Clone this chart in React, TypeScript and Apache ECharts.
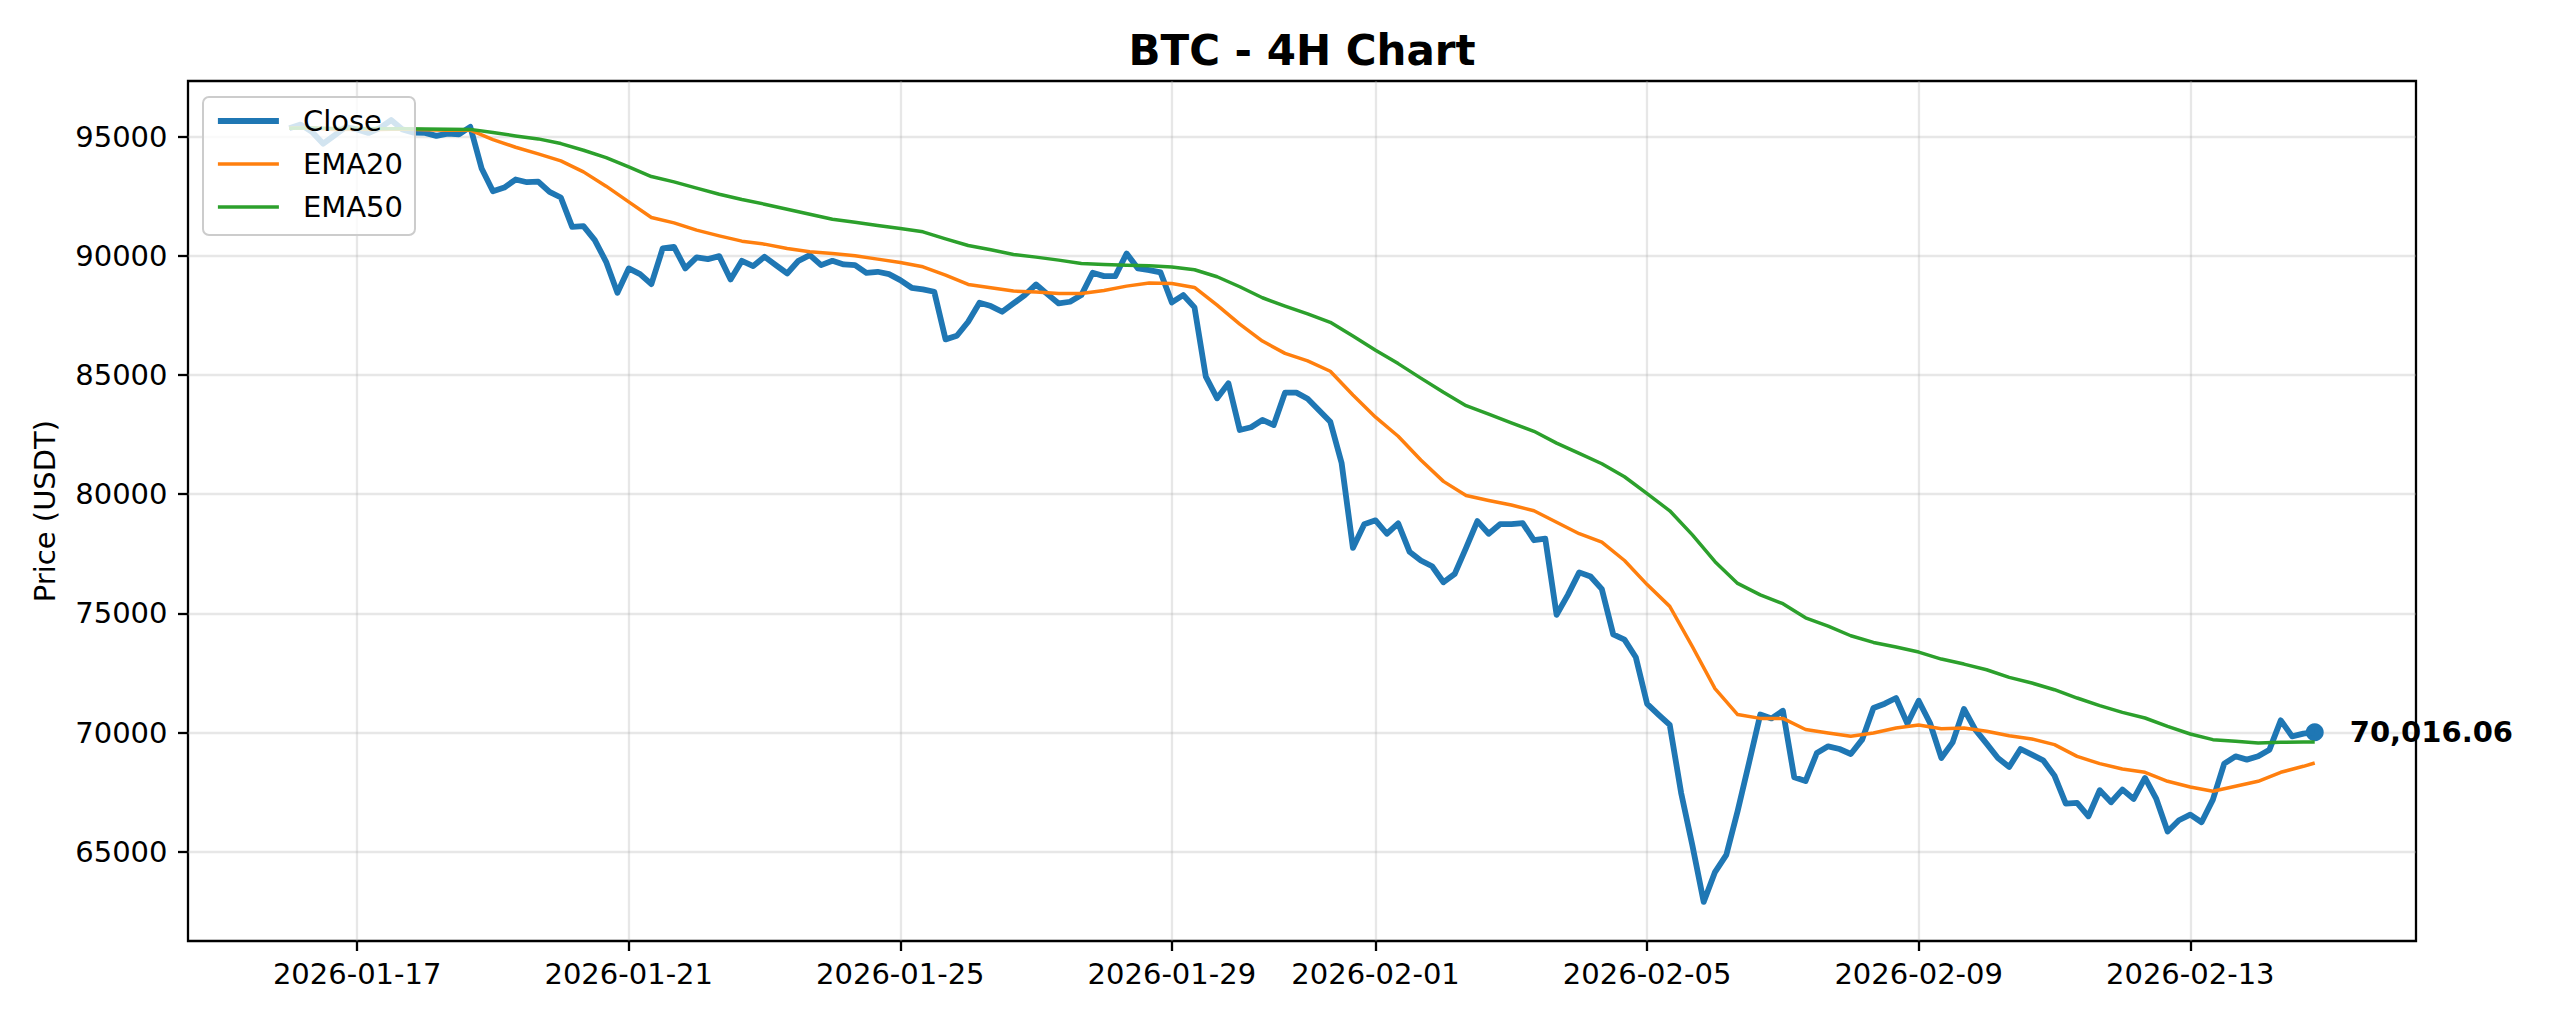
import { useEffect, useRef } from "react";
import * as echarts from "echarts";

// 4H candles, first one at 2026-01-16 00:00 UTC
const startUtc = Date.UTC(2026, 0, 16, 0, 0);
const stepMs = 4 * 3600 * 1000;

const close = [
  95350, 95500, 95200, 94700, 95050, 95400, 95300, 95150, 95350, 95690,
  95300, 95166, 95152, 95027, 95124, 95096, 95404, 93658, 92708, 92862,
  93197, 93085, 93113, 92680, 92443, 91213, 91241, 90655, 89747, 88448,
  89468, 89230, 88811, 90306, 90376, 89468, 89929, 89859, 89985, 89007,
  89789, 89566, 89957, 89607, 89258, 89789, 90026, 89607, 89789, 89635,
  89607, 89286, 89328, 89230, 88979, 88658, 88588, 88490, 86493, 86646,
  87233, 88029, 87889, 87652, 88001, 88351, 88797, 88392, 88001, 88071,
  88351, 89286, 89147, 89147, 90096, 89468, 89398, 89300, 88043, 88351,
  87834, 84928, 84021, 84649, 82694, 82806, 83113, 82903, 84258, 84258,
  84002, 83521, 83040, 81308, 77748, 78742, 78903, 78341, 78774, 77588,
  77219, 76979, 76305, 76658, 77748, 78871, 78341, 78742, 78742, 78790,
  78069, 78133, 74942, 75776, 76722, 76546, 76016, 74124, 73900, 73162,
  71206, 70757, 70324, 67486, 65273, 62900, 64151, 64872, 66716, 68720,
  70757, 70597, 70917, 68127, 67967, 69146, 69426, 69314, 69104, 69705,
  71032, 71213, 71451, 70375, 71339, 70403, 68937, 69593, 70990, 70124,
  69537, 68937, 68560, 69314, 69076, 68839, 68196, 67023, 67051, 66492,
  67582, 67079, 67610, 67219, 68099, 67219, 65850, 66325, 66562, 66241,
  67191, 68699, 69006, 68867, 69006, 69286, 70515, 69845, 69956, 70016.06,
];

// EMA curves read every second candle, plus the last candle
const ema20 = [
  95350, 95360, 95300, 95310, 95300, 95320, 95290, 95260, 95270, 94873,
  94552, 94272, 93979, 93518, 92918, 92261, 91605, 91381, 91074, 90836,
  90613, 90487, 90306, 90166, 90096, 89999, 89859, 89719, 89538, 89189,
  88797, 88658, 88518, 88476, 88420, 88420, 88546, 88727, 88853, 88839,
  88672, 87931, 87135, 86423, 85906, 85589, 85156, 84162, 83232, 82430,
  81436, 80538, 79945, 79737, 79544, 79304, 78823, 78342, 77989, 77219,
  76209, 75295, 73611, 71847, 70757, 70597, 70597, 70132, 69984, 69845,
  69984, 70194, 70319, 70166, 70194, 70054, 69872, 69733, 69496, 69006,
  68699, 68476, 68336, 67959, 67722, 67540, 67750, 67959, 68336, 68587,
  68727,
];
const ema50 = [
  95350, 95355, 95340, 95335, 95330, 95330, 95320, 95310, 95300, 95166,
  95027, 94901, 94705, 94426, 94119, 93728, 93323, 93099, 92834, 92582,
  92359, 92163, 91954, 91740, 91530, 91409, 91270, 91144, 91004, 90711,
  90432, 90250, 90054, 89943, 89817, 89677, 89635, 89607, 89580, 89524,
  89412, 89119, 88700, 88239, 87889, 87562, 87209, 86632, 86038, 85477,
  84868, 84275, 83713, 83360, 82992, 82639, 82142, 81709, 81276, 80731,
  80025, 79304, 78293, 77171, 76257, 75776, 75407, 74814, 74468, 74063,
  73783, 73588, 73378, 73085, 72875, 72638, 72317, 72079, 71800, 71451,
  71130, 70850, 70613, 70264, 69942, 69705, 69635, 69565, 69593, 69607,
  69607,
];
const emaCandles = Array.from({ length: 90 }, (_, k) => k * 2).concat(close.length - 1);

const dateTicks = [
  "2026-01-17", "2026-01-21", "2026-01-25", "2026-01-29",
  "2026-02-01", "2026-02-05", "2026-02-09", "2026-02-13",
];
const priceTicks = [65000, 70000, 75000, 80000, 85000, 90000, 95000];

const FONT = '"DejaVu Sans", "Liberation Sans", sans-serif';
const BLUE = "#1f77b4";
const ORANGE = "#ff7f0e";
const GREEN = "#2ca02c";

const t = (i: number) => startUtc + i * stepMs;

function buildOption(): echarts.EChartsOption {
  const endUtc = t(close.length - 1);
  const span = endUtc - startUtc;
  const all = [...close, ...ema20, ...ema50];
  const lo = Math.min(...all);
  const hi = Math.max(...all);
  const pad = (hi - lo) * 0.05;
  const last = close[close.length - 1];
  const tickDates = dateTicks.map((d) => Date.parse(d + "T00:00:00Z"));

  const gridLine = { show: true, lineStyle: { color: "rgba(176,176,176,0.3)", width: 2.3 } };
  const tick = { show: true, inside: false, length: 10, lineStyle: { color: "#000", width: 2.3 } };

  return {
    animation: false,
    backgroundColor: "#fff",
    textStyle: { fontFamily: FONT },
    grid: {
      left: 188,
      right: 144,
      top: 81,
      bottom: 83,
      show: true,
      borderColor: "#000",
      borderWidth: 2.3,
      backgroundColor: "transparent",
      containLabel: false,
    },
    graphic: [
      {
        type: "text",
        x: 1302,
        y: 50,
        style: {
          text: "BTC - 4H Chart",
          fill: "#000",
          font: `bold 42px ${FONT}`,
          textAlign: "center",
          textVerticalAlign: "middle",
        },
      },
      {
        type: "text",
        x: 45,
        y: 511,
        rotation: Math.PI / 2,
        style: {
          text: "Price (USDT)",
          fill: "#000",
          font: `29px ${FONT}`,
          textAlign: "center",
          textVerticalAlign: "middle",
        },
      },
    ],
    legend: {
      data: ["Close", "EMA20", "EMA50"],
      orient: "vertical",
      left: 203,
      top: 97,
      z: 10,
      padding: [9, 12, 13, 12],
      itemWidth: 61,
      itemHeight: 14,
      itemGap: 13,
      backgroundColor: "rgba(255,255,255,0.8)",
      borderColor: "#cccccc",
      borderWidth: 2,
      borderRadius: 6,
      selectedMode: false,
      itemStyle: { opacity: 0 },
      lineStyle: { width: "inherit" as any },
      textStyle: { fontSize: 29, fontFamily: FONT, color: "#000", lineHeight: 30, padding: [0, 0, 0, 19] },
    },
    xAxis: {
      type: "value",
      min: startUtc - span * 0.05,
      max: endUtc + span * 0.05,
      axisLine: { show: false },
      axisTick: { ...tick, customValues: tickDates } as any,
      axisLabel: {
        customValues: tickDates,
        formatter: (v: number) => new Date(v).toISOString().slice(0, 10),
        color: "#000",
        fontSize: 29,
        fontFamily: FONT,
        margin: 18,
      } as any,
      splitLine: gridLine,
    },
    yAxis: {
      type: "value",
      min: lo - pad,
      max: hi + pad,
      axisLine: { show: false },
      axisTick: { ...tick, customValues: priceTicks } as any,
      axisLabel: {
        customValues: priceTicks,
        formatter: (v: number) => String(v),
        color: "#000",
        fontSize: 29,
        fontFamily: FONT,
        margin: 20.5,
      } as any,
      splitLine: gridLine,
    },
    series: [
      {
        type: "scatter",
        name: "last",
        z: 1,
        silent: true,
        symbol: "circle",
        symbolSize: 18,
        itemStyle: { color: BLUE, opacity: 1 },
        data: [[endUtc, last]],
        label: {
          show: true,
          position: "right",
          distance: 26,
          opacity: 1,
          formatter: () =>
            last.toLocaleString("en-US", { minimumFractionDigits: 2, maximumFractionDigits: 2 }),
          color: "#000",
          fontSize: 29,
          fontWeight: "bold",
          fontFamily: FONT,
        },
      },
      {
        type: "line",
        name: "Close",
        z: 2,
        symbol: "none",
        data: close.map((v, i) => [t(i), v]),
        lineStyle: { color: BLUE, width: 5.8, join: "round" },
        itemStyle: { color: BLUE },
      },
      {
        type: "line",
        name: "EMA20",
        z: 2,
        symbol: "none",
        data: ema20.map((v, k) => [t(emaCandles[k]), v]),
        lineStyle: { color: ORANGE, width: 3.5, join: "round" },
        itemStyle: { color: ORANGE },
      },
      {
        type: "line",
        name: "EMA50",
        z: 2,
        symbol: "none",
        data: ema50.map((v, k) => [t(emaCandles[k]), v]),
        lineStyle: { color: GREEN, width: 3.5, join: "round" },
        itemStyle: { color: GREEN },
      },
    ],
  };
}

export default function App() {
  const ref = useRef<HTMLDivElement | null>(null);

  useEffect(() => {
    document.body.style.margin = "0";
    if (!ref.current) return;
    const chart = echarts.init(ref.current, null, { renderer: "svg" });
    chart.setOption(buildOption());
    return () => chart.dispose();
  }, []);

  return <div ref={ref} style={{ width: 2560, height: 1024, background: "#fff" }} />;
}
